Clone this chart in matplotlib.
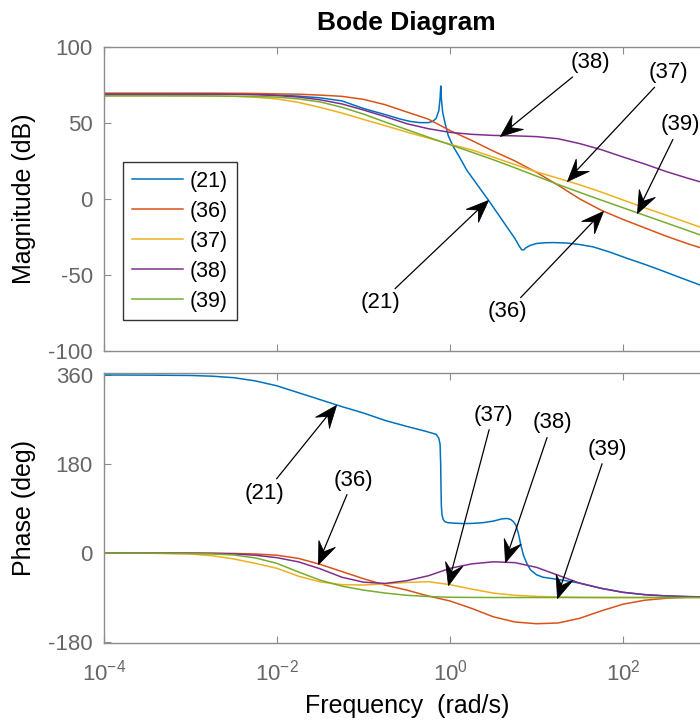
"""Bode diagram of the five transfer functions (21), (36)-(39)."""

import matplotlib
matplotlib.use("Agg")
import matplotlib.pyplot as plt
import numpy as np
from matplotlib.markers import MarkerStyle
from matplotlib.path import Path
from matplotlib.transforms import Affine2D

plt.rcParams["font.family"] = ["Liberation Sans", "DejaVu Sans"]
plt.rcParams["mathtext.fontset"] = "custom"
plt.rcParams["mathtext.rm"] = "Liberation Sans"
plt.rcParams["mathtext.it"] = "Liberation Sans:italic"
plt.rcParams["axes.unicode_minus"] = False

# ---- data (log10 of frequency in rad/s) -----------------------------------
labels = ["(21)", "(36)", "(37)", "(38)", "(39)"]
colors = ["#0072BD", "#D95319", "#EDB120", "#7E2F8E", "#77AC30"]

grid_logw = [-4, -3.5, -3, -2.75, -2.5, -2.25, -2, -1.75, -1.5, -1.25, -1, -0.75,
             -0.5, -0.25, 0, 0.25, 0.5, 0.75, 1, 1.25, 1.5, 1.75, 2, 2.25, 2.5,
             2.75, 3]

mag_36 = [69.6, 69.6, 69.6, 69.6, 69.5, 69.4, 69.1, 68.9, 68.3, 67.5, 65.5, 62.0,
          57.2, 52.5, 45.0, 38.5, 31.5, 25.0, 17.5, 9.0, 0.0, -7.5, -13.5, -19.0,
          -24.5, -29.5, -34.0]
mag_37 = [68.0, 68.0, 67.9, 67.8, 67.5, 66.9, 65.8, 63.5, 60.2, 56.5, 52.3, 48.2,
          44.0, 40.0, 36.0, 32.3, 27.5, 22.6, 17.8, 13.6, 9.3, 4.5, -0.7, -5.8,
          -10.7, -15.7, -20.7]
mag_38 = [69.0, 69.0, 69.0, 69.0, 68.9, 68.6, 68.0, 67.0, 65.2, 62.5, 58.5, 54.2,
          49.5, 46.2, 43.8, 42.5, 41.8, 41.5, 41.0, 39.6, 36.4, 32.4, 27.6, 23.0,
          18.0, 13.6, 9.5]
mag_39 = [67.8, 67.8, 67.8, 67.7, 67.6, 67.4, 67.0, 65.8, 63.8, 60.3, 55.8, 50.6,
          45.6, 40.6, 35.7, 30.8, 25.8, 20.5, 15.0, 9.5, 4.3, -0.8, -5.8, -10.8,
          -15.8, -20.8, -25.8]

mag21_logw = [-4, -3, -2.5, -2.25, -2, -1.75, -1.5, -1.25, -1, -0.75, -0.578, -0.462,
              -0.35, -0.25, -0.2, -0.16, -0.13, -0.115, -0.107, -0.1, -0.085,
              -0.058, -0.02, 0.038, 0.1, 0.193, 0.3, 0.443, 0.55, 0.655, 0.75,
              0.8, 0.829, 0.85, 0.88, 0.93, 1.0, 1.1, 1.2, 1.349, 1.5, 1.653,
              1.85, 2.043, 2.25, 2.428, 2.65, 2.89, 3]
mag_21 = [69.0, 69.0, 68.9, 68.7, 68.4, 67.6, 66.5, 64.5, 59.5, 55.5, 52.6, 51.0,
          50.2, 50.2, 51.0, 53.0, 58.0, 66.0, 74.3, 66.0, 57.0,
          50.0, 41.5, 34.4, 28.5, 19.0, 10.5, -0.7, -9.5, -18.2, -26.0,
          -31.0, -33.5, -33.5, -32.0, -30.5, -29.3, -28.8, -28.7, -29.0, -30.0, -31.5,
          -35.0, -39.0, -43.0, -46.7, -51.5, -56.6, -58.8]

ph_36 = [0.0, 0.0, -0.2, -0.4, -0.9, -2.0, -4.5, -11.0, -23.0, -37.5, -52.0, -65.0,
         -75.0, -87.0, -97.0, -112.0, -129.0, -139.5, -143.0, -141.5, -132.0, -117.0,
         -103.5, -95.5, -91.5, -89.5, -89.5]
ph_37 = [0.0, -0.5, -2.0, -5.5, -12.0, -21.0, -31.0, -47.0, -58.5, -64.0, -64.7, -62.5,
         -59.5, -58.0, -64.0, -73.0, -81.0, -85.5, -87.8, -89.0, -89.7, -90.0, -90.0,
         -90.0, -90.0, -90.0, -90.0]
ph_38 = [0.0, 0.0, -0.3, -0.8, -1.8, -4.5, -9.5, -18.0, -32.0, -49.0, -59.0, -61.5,
         -56.0, -46.0, -31.0, -22.0, -17.8, -19.5, -29.0, -45.0, -61.0, -71.5, -79.5,
         -84.2, -86.8, -88.2, -89.0]
ph_39 = [0.0, -0.3, -1.0, -1.9, -4.0, -10.0, -21.0, -38.5, -55.0, -67.0, -75.0, -81.0,
         -85.5, -88.0, -89.5, -89.8, -90.0, -90.0, -90.0, -90.0, -90.0, -90.0, -90.0,
         -90.0, -90.0, -90.0, -90.0]

ph21_logw = [-4, -3.5, -3, -2.75, -2.5, -2.25, -2, -1.75, -1.5, -1.25, -1, -0.75,
             -0.5, -0.3, -0.2, -0.16, -0.13, -0.115, -0.108, -0.104, -0.1, -0.093,
             -0.08, -0.06, -0.03, 0.05, 0.15, 0.25, 0.38, 0.5, 0.6, 0.66, 0.7,
             0.73, 0.76, 0.79, 0.82, 0.85, 0.89, 0.93, 1.0, 1.075, 1.23, 1.3,
             1.387, 1.5, 1.75, 2, 2.25, 2.5, 2.75, 3]
ph_21 = [360.0, 359.7, 359.0, 357.5, 354.5, 348.0, 338.0, 324.0, 310.0, 296.0, 283.0, 268.0,
         256.0, 247.0, 242.0, 240.0, 232.0, 220.0, 180.0, 130.0, 95.0, 78.0,
         68.0, 63.5, 61.5, 60.3, 59.5, 59.8, 61.3, 64.5, 69.0, 69.8, 68.0,
         64.0, 57.0, 40.0, 15.0, -5.0, -22.0, -34.0, -44.0, -49.0, -53.0, -55.0,
         -57.5, -61.0, -71.5, -79.5, -84.2, -86.8, -88.2, -89.0]

# annotations: label, tip (log10 w, value), text (log10 w, value)
mag_notes = [("(38)", 0.578, 41.5, 1.618, 89.5),
             ("(37)", 1.353, 12.0, 2.52, 82.9),
             ("(39)", 2.162, -9.0, 2.659, 48.7),
             ("(21)", 0.443, -0.7, -0.809, -68.4),
             ("(36)", 1.769, -8.0, 0.659, -74.3)]
ph_notes = [("(21)", -1.318, 299.0, -2.139, 121.0),
            ("(36)", -1.526, -22.0, -1.121, 147.6),
            ("(37)", -0.023, -64.5, 0.497, 279.0),
            ("(38)", 0.636, -17.6, 1.179, 263.0),
            ("(39)", 1.237, -90.0, 1.815, 210.0)]

# ---- figure ---------------------------------------------------------------
grid_w = 10.0 ** np.array(grid_logw)
mag_series = [(10.0 ** np.array(mag21_logw), mag_21), (grid_w, mag_36),
              (grid_w, mag_37), (grid_w, mag_38), (grid_w, mag_39)]
ph_series = [(10.0 ** np.array(ph21_logw), ph_21), (grid_w, ph_36),
             (grid_w, ph_37), (grid_w, ph_38), (grid_w, ph_39)]

axis_gray = "#8c8c8c"
tick_gray = "#666666"

fig = plt.figure(figsize=(7.0, 7.22), dpi=100)
ax_mag = fig.add_axes([0.1486, 0.5139, 0.865, 0.4211])
ax_ph = fig.add_axes([0.1486, 0.1094, 0.865, 0.374])

for (w, m), lab, c in zip(mag_series, labels, colors):
    ax_mag.semilogx(w, m, color=c, linewidth=1.1, label=lab)
for (w, p), c in zip(ph_series, colors):
    ax_ph.semilogx(w, p, color=c, linewidth=1.1)

xticks = [1e-4, 1e-2, 1e0, 1e2]
for ax in (ax_mag, ax_ph):
    ax.set_xlim(1e-4, 1e3)
    ax.set_xticks(xticks)
    ax.xaxis.set_minor_locator(plt.NullLocator())
    ax.tick_params(direction="in", length=5, width=0.8, colors=axis_gray,
                   labelcolor=tick_gray, labelsize=16, top=True, right=True,
                   pad=8)
    for s in ax.spines.values():
        s.set_color(axis_gray)
        s.set_linewidth(1.0)

ax_mag.set_ylim(-100, 100)
ax_mag.set_yticks([-100, -50, 0, 50, 100])
ax_mag.set_xticklabels([])
ax_ph.set_ylim(-182, 364)
ax_ph.set_yticks([-180, 0, 180, 360])
ax_ph.set_xticklabels([r"$10^{-4}$", r"$10^{-2}$", r"$10^{0}$", r"$10^{2}$"])
ax_ph.tick_params(axis="x", pad=12)

ax_mag.set_ylabel("Magnitude (dB)", fontsize=18)
ax_ph.set_ylabel("Phase (deg)", fontsize=18)
ax_mag.yaxis.set_label_coords(-0.112, 0.5)
ax_ph.yaxis.set_label_coords(-0.112, 0.5)
ax_ph.set_xlabel("Frequency  (rad/s)", fontsize=18, labelpad=6)
ax_mag.set_title("Bode Diagram", fontsize=19, fontweight="bold", pad=12)

leg = ax_mag.legend(loc="upper left", bbox_to_anchor=(0.0314, 0.6217),
                    borderaxespad=0, fontsize=15.5, handlelength=2.4,
                    handletextpad=0.3, labelspacing=0.42, borderpad=0.4,
                    fancybox=False, framealpha=1)
leg.get_frame().set_edgecolor("#333333")
leg.get_frame().set_linewidth(1.0)

# MATLAB-style arrow head with a swept-back notch, tip at the origin
head_path = Path([(0, 0), (-1, 0.4), (-0.62, 0), (-1, -0.4), (0, 0)],
                 [Path.MOVETO, Path.LINETO, Path.LINETO, Path.LINETO,
                  Path.CLOSEPOLY])

for ax, notes in ((ax_mag, mag_notes), (ax_ph, ph_notes)):
    for lab, tx, ty, lx, ly in notes:
        tip = (10.0 ** tx, ty)
        txt = (10.0 ** lx, ly)
        ax.annotate(lab, xy=tip, xytext=txt, fontsize=16, ha="center",
                    va="center", annotation_clip=False,
                    arrowprops=dict(arrowstyle="-", color="black",
                                    linewidth=0.9, shrinkA=1, shrinkB=4))
        p0 = ax.transData.transform(txt)
        p1 = ax.transData.transform(tip)
        ang = np.degrees(np.arctan2(p1[1] - p0[1], p1[0] - p0[0]))
        head = MarkerStyle(head_path, transform=Affine2D().rotate_deg(ang))
        ax.plot(tip[0], tip[1], marker=head, markersize=32, color="black",
                markeredgewidth=0.6, clip_on=False, zorder=5)

fig.savefig("out.png", dpi=100)
